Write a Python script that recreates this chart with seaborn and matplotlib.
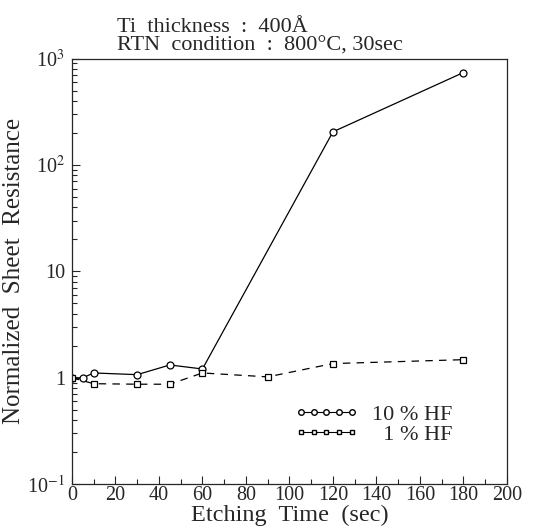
import pandas as pd
import seaborn as sns
import matplotlib
matplotlib.use("Agg")
import matplotlib.pyplot as plt
from matplotlib.lines import Line2D
from matplotlib.ticker import LogLocator, MultipleLocator, FixedLocator, NullFormatter

# etching time (sec) and normalized sheet resistance
time_10hf = [0, 5, 10, 30, 45, 60, 120, 180]
res_10hf = [1.0, 1.0, 1.11, 1.07, 1.32, 1.21, 205, 740]
time_1hf = [0, 10, 30, 45, 60, 90, 120, 180]
res_1hf = [1.0, 0.88, 0.87, 0.87, 1.11, 1.02, 1.36, 1.48]

y_ticks = [0.1, 1, 10, 100, 1000]
y_labels = ["10$^{-1}$", "1", "10", "10$^{2}$", "10$^{3}$"]

sns.set_style("ticks")
plt.rcParams['font.family'] = ['Liberation Serif', 'DejaVu Serif']
plt.rcParams['mathtext.fontset'] = 'stix'

fig = plt.figure(figsize=(5.37, 5.28), dpi=100)
ax = fig.add_axes([0.134, 0.083, 0.810, 0.806])

df10 = pd.DataFrame({"t": time_10hf, "r": res_10hf})
df1 = pd.DataFrame({"t": time_1hf, "r": res_1hf})

sns.lineplot(x="t", y="r", data=df10, ax=ax, color="black", lw=0.9,
             marker="o", markersize=5, markerfacecolor="white",
             markeredgecolor="black", markeredgewidth=0.9)
sns.lineplot(x="t", y="r", data=df1, ax=ax, color="black", lw=0.9,
             marker="s", markersize=4.5, markerfacecolor="white",
             markeredgecolor="black", markeredgewidth=0.9, dashes=False)
ax.lines[-1].set_dashes([6, 5])

ax.set_yscale("log")
ax.set_xlim(0, 200)
ax.set_ylim(0.1, 1000)
ax.xaxis.set_major_locator(MultipleLocator(20))
ax.xaxis.set_minor_locator(MultipleLocator(10))
ax.yaxis.set_major_locator(FixedLocator(y_ticks))
ax.set_yticklabels(y_labels)
ax.yaxis.set_minor_locator(LogLocator(base=10, subs=range(2, 10)))
ax.yaxis.set_minor_formatter(NullFormatter())
ax.tick_params(which="both", direction="in", labelsize=14.5, width=0.8)
ax.tick_params(axis="x", pad=1)
ax.tick_params(axis="y", pad=5)
ax.tick_params(which="major", length=6)
ax.tick_params(which="minor", length=3.5)
for sp in ax.spines.values():
    sp.set_visible(True)
    sp.set_linewidth(0.9)

ax.set_xlabel("Etching  Time  (sec)", fontsize=17.5, labelpad=0)
ax.set_ylabel("Normalized  Sheet  Resistance", fontsize=18, labelpad=2)
ax.set_title("Ti  thickness  :  400Å\nRTN  condition  :  800°C, 30sec",
             fontsize=16, loc="left", x=0.103, pad=6, linespacing=0.95)

handles = [
    Line2D([], [], color="black", lw=0.8, marker="o", markersize=4,
           markerfacecolor="white", markeredgecolor="black"),
    Line2D([], [], color="black", lw=0.8, marker="s", markersize=3.5,
           markerfacecolor="white", markeredgecolor="black"),
]
ax.legend(handles, ["10 % HF", "  1 % HF"], loc="center left",
          bbox_to_anchor=(0.465, 0.14), frameon=False, numpoints=5,
          handlelength=2.9, fontsize=16, labelspacing=0.0, handletextpad=0.6)

fig.savefig("out.png", dpi=100)
